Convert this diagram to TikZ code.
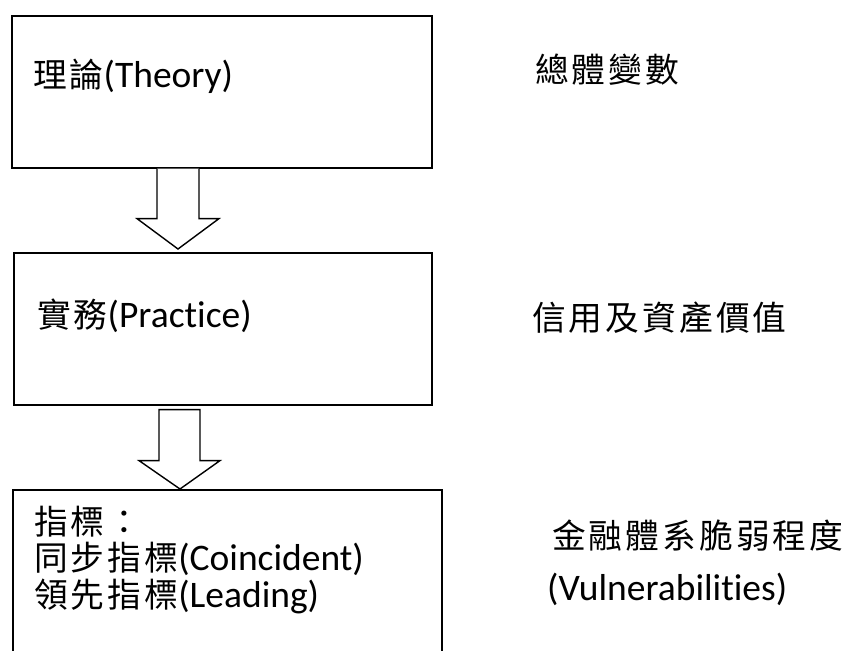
\documentclass[tikz,border=0pt]{standalone}
\usepackage{fontspec}
\setmainfont{Carlito}[Ligatures=NoCommon]
\newfontfamily\cjk[Scale=0.9,LetterSpace=9]{Noto Sans CJK TC}
\usetikzlibrary{calc}

\tikzset{
  stage/.style={draw=black, line width=1.6pt, fill=white},
  blockarrow/.style={draw=black, line width=1.4pt, fill=white, line join=miter},
  label/.style={inner sep=0pt, font=\fontsize{37.5}{36.5}\selectfont},
  side/.style={inner sep=0pt, anchor=west, font=\fontsize{37.5}{36.5}\selectfont}
}

\begin{document}
\begin{tikzpicture}[x=1pt, y=-1pt]
  \useasboundingbox (0,0) rectangle (845,650);
  \clip (0,0) rectangle (845,650);
  \fill[white] (0,0) rectangle (845,650);

  % stage boxes
  \node[stage, anchor=north west, minimum width=420pt, minimum height=152pt] (theory) at (11,15) {};
  \node[stage, anchor=north west, minimum width=418pt, minimum height=152pt] (practice) at (13,252) {};
  \node[stage, anchor=north west, minimum width=429pt, minimum height=200pt] (index) at (12,489) {};

  % hollow block arrows between the stages
  \draw[blockarrow] ($(theory.south west)+(146,0)$) -- ++(0,50) -- ++(-20,0)
      -- ($(practice.north west)+(165,-3)$) -- ($(theory.south west)+(208,50)$)
      -- ++(-20,0) -- ++(0,-50);
  \draw[blockarrow] ($(practice.south west)+(146,4)$) -- ++(0,51) -- ++(-20,0)
      -- ($(index.north west)+(168,0)$) -- ($(practice.south west)+(207,55)$)
      -- ++(-20,0) -- ++(0,-51) -- cycle;

  % box texts (the three-line node sits on the baseline of its last line)
  \node[label, anchor=base west] (t1) at (33,88) {{\cjk 理論}(Theory)};
  \node[label, anchor=base west] (t2) at (37,327) {{\cjk 實務}(Practice)};
  \node[label, anchor=base west, align=left] (t3) at (34,607)
    {{\cjk 指標：}\\{\cjk 同步指標}(Coincident)\\{\cjk 領先指標}(Leading)};

  % side notes
  \node[side] (n1) at (535,70) {\cjk 總體變數};
  \node[side] (n2) at (532,318) {\cjk 信用及資產價值};
  \node[side] (n3) at (552,536) {\cjk 金融體系脆弱程度};
  \node[label, anchor=base west] (n3b) at (547,600) {(Vulnerabilities)};
\end{tikzpicture}
\end{document}
